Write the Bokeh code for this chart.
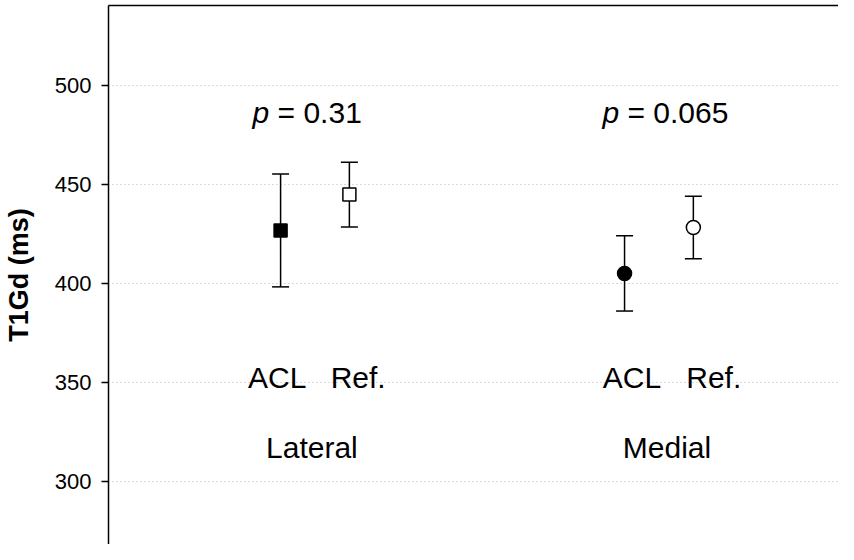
from bokeh.plotting import figure
from bokeh.models import (ColumnDataSource, Whisker, TeeHead, LinearAxis,
                          FixedTicker, Range1d)
from bokeh.core.properties import value
from bokeh.embed import file_html
from bokeh.resources import INLINE

# ---- data ----
groups = ["Lateral", "Medial"]
conditions = ["ACL", "Ref."]
group_x = [1.0, 2.0]
mean_acl = [426.8, 405.1]
mean_ref = [444.9, 428.3]
err_acl = [28.5, 19.0]
err_ref = [16.3, 15.8]
p_values = ["0.31", "0.065"]
y_ticks = [300, 350, 400, 450, 500]

# ---- layout constants ----
cond_offset = {"ACL": -0.1, "Ref.": 0.1}
marker_for_group = ["square", "circle"]
marker_size = {"square": 13, "circle": 14}
FONT = "Liberation Sans"

p = figure(width=838, height=544,
           x_range=Range1d(0.3997, 2.522), y_range=Range1d(268.2, 540.4),
           x_axis_location=None, y_axis_location="left",
           output_backend="svg", toolbar_location=None,
           min_border_left=108, min_border_top=5, min_border_bottom=0,
           min_border_right=0)
p.outline_line_color = None
p.xgrid.visible = False
p.background_fill_color = "white"
p.border_fill_color = "white"

# y axis
ya = p.yaxis[0]
ya.ticker = FixedTicker(ticks=y_ticks)
ya.major_tick_in = 0
ya.major_tick_out = 7
ya.minor_tick_line_color = None
ya.axis_line_width = 1.5
ya.axis_line_color = "black"
ya.major_tick_line_width = 1.5
ya.major_tick_line_color = "black"
ya.major_label_text_font = FONT
ya.major_label_text_font_size = "22px"
ya.major_label_text_color = "black"
ya.major_label_standoff = 10
ya.axis_label = "T1Gd (ms)"
ya.axis_label_text_font = FONT
ya.axis_label_text_font_style = "bold"
ya.axis_label_text_font_size = "27px"
ya.axis_label_text_color = "black"
ya.axis_label_standoff = 18

p.ygrid.ticker = FixedTicker(ticks=y_ticks)
p.ygrid.grid_line_color = "#b5b5b5"
p.ygrid.grid_line_dash = "1 3"
p.ygrid.grid_line_width = 1

# top frame line
top = LinearAxis(ticker=FixedTicker(ticks=[]), major_tick_in=0, major_tick_out=0,
                 minor_tick_in=0, minor_tick_out=0, major_label_standoff=0,
                 major_label_text_font_size="0px", axis_line_color="black",
                 axis_line_width=1.5)
p.add_layout(top, "above")

# error bars and markers
for gi, g in enumerate(groups):
    for cond, means, errs in (("ACL", mean_acl, err_acl), ("Ref.", mean_ref, err_ref)):
        x = group_x[gi] + cond_offset[cond]
        src = ColumnDataSource(dict(x=[x], y=[means[gi]],
                                    upper=[means[gi] + errs[gi]],
                                    lower=[means[gi] - errs[gi]]))
        w = Whisker(base="x", upper="upper", lower="lower", source=src,
                    dimension="height", line_width=1.5, line_color="black",
                    upper_head=TeeHead(size=17, line_width=1.5, line_color="black"),
                    lower_head=TeeHead(size=17, line_width=1.5, line_color="black"))
        p.add_layout(w)
        m = marker_for_group[gi]
        p.scatter("x", "y", source=src, marker=m, size=marker_size[m],
                  line_color="black", line_width=1.5,
                  fill_color="black" if cond == "ACL" else "white")

# text annotations
p_split_off = [-0.133, -0.1157]
acl_lab_off = [-0.110, -0.0785]
ref_lab_off = [0.1256, 0.1593]
grp_lab_off = [-0.009, 0.0233]
y_p, y_cond, y_grp = 486.4, 352.7, 317.2

px = [group_x[i] + p_split_off[i] for i in range(2)]
p.text(x=px, y=[y_p, y_p], text=["p", "p"], text_font=value(FONT),
       text_font_style="italic", text_font_size="30px", text_align="right",
       text_baseline="alphabetic", text_color="black")
p.text(x=px, y=[y_p, y_p], text=["\u00a0= " + v for v in p_values],
       text_font=value(FONT), text_font_size="30px", text_align="left",
       text_baseline="alphabetic", text_color="black")

cx = [group_x[i] + acl_lab_off[i] for i in range(2)] + \
     [group_x[i] + ref_lab_off[i] for i in range(2)]
p.text(x=cx, y=[y_cond] * 4, text=[conditions[0]] * 2 + [conditions[1]] * 2,
       text_font=value(FONT), text_font_size="30px", text_align="center",
       text_baseline="alphabetic", text_color="black")

gx = [group_x[i] + grp_lab_off[i] for i in range(2)]
p.text(x=gx, y=[y_grp] * 2, text=groups, text_font=value(FONT),
       text_font_size="30px", text_align="center",
       text_baseline="alphabetic", text_color="black")

open("out.html", "w").write(file_html(p, INLINE))
